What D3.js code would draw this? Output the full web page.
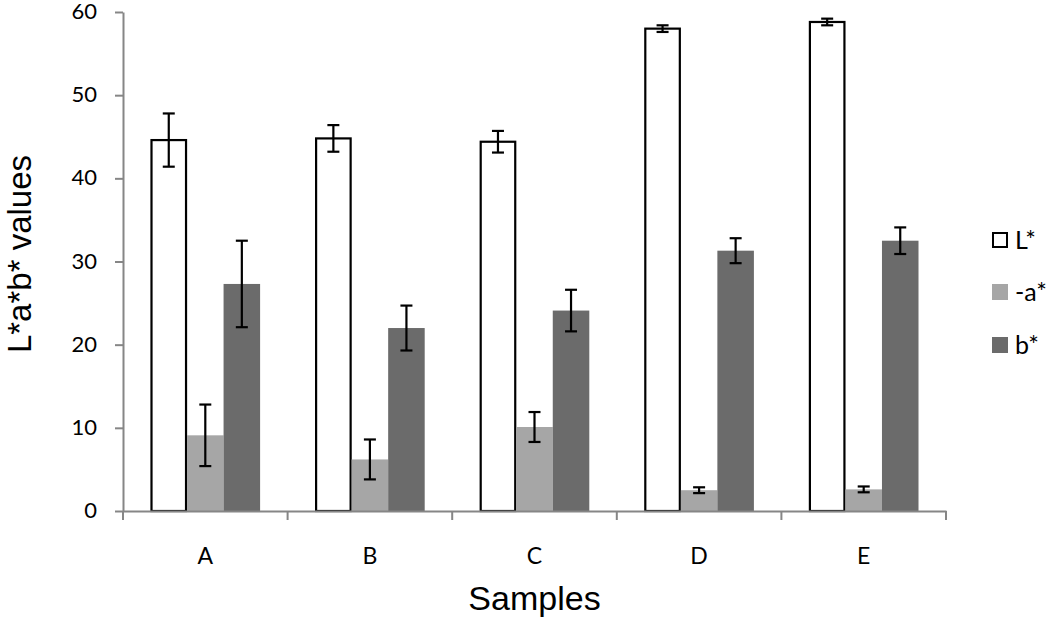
<!DOCTYPE html>
<html>
<head>
<meta charset="utf-8">
<script src="https://cdn.jsdelivr.net/npm/d3@7"></script>
<style>
  body { margin: 0; background: #fff; }
</style>
</head>
<body>
<div id="chart"></div>
<script>
const width = 1050;
const height = 626;

const samples = ["A", "B", "C", "D", "E"];
const seriesNames = ["L*", "-a*", "b*"];
const lValues = [44.6, 44.8, 44.4, 58.0, 58.8];
const lErrors = [3.2, 1.6, 1.3, 0.4, 0.4];
const aValues = [9.1, 6.2, 10.1, 2.5, 2.6];
const aErrors = [3.7, 2.4, 1.8, 0.35, 0.35];
const bValues = [27.3, 22.0, 24.1, 31.3, 32.5];
const bErrors = [5.2, 2.7, 2.5, 1.5, 1.6];
const yTicks = [0, 10, 20, 30, 40, 50, 60];

const fills = ["#ffffff", "#a6a6a6", "#6b6b6b"];
const strokes = ["#000000", "none", "none"];

const margin = {top: 12, right: 104, bottom: 115, left: 123};
const innerW = width - margin.left - margin.right;
const innerH = height - margin.top - margin.bottom;

const series = [
    {name: seriesNames[0], values: lValues, errors: lErrors},
    {name: seriesNames[1], values: aValues, errors: aErrors},
    {name: seriesNames[2], values: bValues, errors: bErrors}
];

const x0 = d3.scaleBand().domain(samples).range([0, innerW]).paddingInner(0).paddingOuter(0);
const x1 = d3.scaleBand().domain(seriesNames).range([27.5, x0.bandwidth() - 27.5]);
const y = d3.scaleLinear().domain([0, 60]).range([innerH, 0]);

const svg = d3.select("#chart")
    .append("svg")
    .attr("width", width)
    .attr("height", height);

const g = svg.append("g").attr("transform", `translate(${margin.left},${margin.top})`);

const axisColor = "#868686";
const tickFont = "Lato, 'Open Sans', sans-serif";

// y axis
const yAxis = g.append("g")
    .call(d3.axisLeft(y).tickValues(yTicks).tickSize(8).tickPadding(18).tickSizeOuter(0));
yAxis.select(".domain").attr("stroke", axisColor).attr("stroke-width", 2);
yAxis.selectAll(".tick line").attr("stroke", axisColor).attr("stroke-width", 2);
yAxis.selectAll(".tick text")
    .attr("fill", "#000")
    .attr("dy", "0.3em")
    .style("font-family", tickFont)
    .style("font-size", "22px");

// bars
const rows = samples.map((s, i) => ({sample: s, i: i}));
const group = g.selectAll("g.grp")
    .data(rows)
    .join("g")
    .attr("class", "grp")
    .attr("transform", d => `translate(${x0(d.sample)},0)`);

series.forEach((ser, k) => {
    group.append("rect")
        .attr("x", x1(ser.name) + (k === 0 ? 1 : 0))
        .attr("y", d => y(ser.values[d.i]))
        .attr("width", x1.bandwidth() - (k === 0 ? 2 : 0))
        .attr("height", d => y(0) - y(ser.values[d.i]))
        .attr("fill", fills[k])
        .attr("stroke", strokes[k])
        .attr("stroke-width", 2.2);
});

// x axis (drawn over bars)
const xAxis = g.append("g")
    .attr("transform", `translate(0,${innerH})`)
    .call(d3.axisBottom(x0).tickSize(0).tickPadding(37));
xAxis.select(".domain").attr("stroke", axisColor).attr("stroke-width", 2);
xAxis.selectAll(".tick text")
    .attr("fill", "#000")
    .style("font-family", tickFont)
    .style("font-size", "23px");
xAxis.selectAll(".sep")
    .data(d3.range(samples.length + 1))
    .join("line")
    .attr("class", "sep")
    .attr("x1", i => i * x0.step())
    .attr("x2", i => i * x0.step())
    .attr("y1", 0)
    .attr("y2", 9)
    .attr("stroke", axisColor)
    .attr("stroke-width", 2);

// error bars
const cap = 6;
series.forEach((ser, k) => {
    const eb = group.append("g")
        .attr("transform", `translate(${x1(ser.name) + x1.bandwidth() / 2},0)`);
    eb.append("line")
        .attr("y1", d => y(ser.values[d.i] + ser.errors[d.i]))
        .attr("y2", d => y(ser.values[d.i] - ser.errors[d.i]))
        .attr("stroke", "#000").attr("stroke-width", 2.2);
    eb.append("line")
        .attr("x1", -cap).attr("x2", cap)
        .attr("y1", d => y(ser.values[d.i] + ser.errors[d.i]))
        .attr("y2", d => y(ser.values[d.i] + ser.errors[d.i]))
        .attr("stroke", "#000").attr("stroke-width", 2.2);
    eb.append("line")
        .attr("x1", -cap).attr("x2", cap)
        .attr("y1", d => y(ser.values[d.i] - ser.errors[d.i]))
        .attr("y2", d => y(ser.values[d.i] - ser.errors[d.i]))
        .attr("stroke", "#000").attr("stroke-width", 2.2);
});

// axis titles
svg.append("text")
    .attr("transform", `translate(31,254) rotate(-90)`)
    .attr("text-anchor", "middle")
    .style("font-family", "'Liberation Sans', Arial, sans-serif")
    .style("font-size", "33px")
    .text("L*a*b* values");

svg.append("text")
    .attr("x", margin.left + innerW / 2)
    .attr("y", 610)
    .attr("text-anchor", "middle")
    .style("font-family", "'Liberation Sans', Arial, sans-serif")
    .style("font-size", "34px")
    .text("Samples");

// legend
const legend = svg.append("g").attr("transform", "translate(992,0)");
const legendY = [240, 292, 345];
series.forEach((ser, k) => {
    const row = legend.append("g").attr("transform", `translate(0,${legendY[k]})`);
    row.append("rect")
        .attr("x", k === 0 ? 1 : 0).attr("y", k === 0 ? -7 : -8)
        .attr("width", k === 0 ? 14 : 16).attr("height", k === 0 ? 14 : 16)
        .attr("fill", fills[k])
        .attr("stroke", k === 0 ? "#000" : "none")
        .attr("stroke-width", 2);
    row.append("text")
        .attr("x", 23).attr("y", 9)
        .style("font-family", tickFont)
        .style("font-size", "25px")
        .text(ser.name);
});
</script>
</body>
</html>
